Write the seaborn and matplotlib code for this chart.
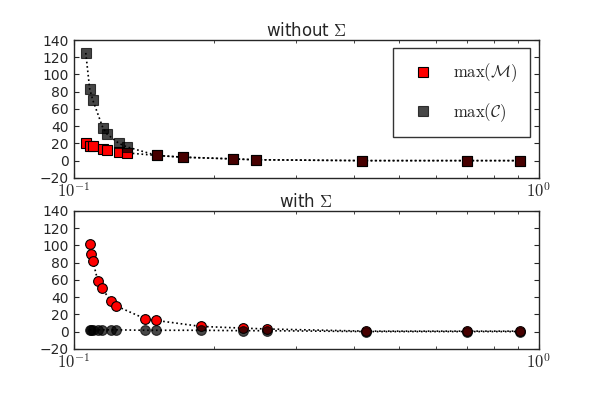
import matplotlib
matplotlib.use('Agg')
import matplotlib.pyplot as plt
import matplotlib.ticker as mticker
import seaborn as sns
import pandas as pd

# data
x_top = [0.1061, 0.1082, 0.1099, 0.1155, 0.1178, 0.1250, 0.1300, 0.1508, 0.1714, 0.2200, 0.2460, 0.416, 0.700, 0.910]
m_top = [20, 17, 17, 14, 12, 10, 9, 6, 4, 2, 1, 0, 0, 0]
c_top = [125, 83, 70, 38, 31, 20, 16, 6, 4, 2, 1, 0, 0, 0]

x_bot = [0.1082, 0.1088, 0.1099, 0.1126, 0.1149, 0.1201, 0.1231, 0.1421, 0.1500, 0.1875, 0.2307, 0.2600, 0.425, 0.700, 0.910]
m_bot = [102, 90, 82, 59, 50, 36, 30, 15, 13, 6, 4, 3, 0.5, 0.5, 0.5]
c_bot = [2, 2, 2, 2, 2, 2, 2, 1.5, 1.5, 1.5, 1, 1, 0, 0, 0]

sns.set_style('ticks')
plt.rcParams['font.family'] = ['DejaVu Sans']
plt.rcParams['mathtext.fontset'] = 'cm'

fig, axes = plt.subplots(2, 1, figsize=(6, 4), dpi=100)
fig.subplots_adjust(left=0.123, right=0.898, top=0.9, bottom=0.128, hspace=0.24)

panels = [(axes[0], x_top, m_top, c_top, 's', r'without $\Sigma$'),
          (axes[1], x_bot, m_bot, c_bot, 'o', r'with $\Sigma$')]

for ax, xs, ms, cs, mk, title in panels:
    df = pd.DataFrame({'x': xs, 'M': ms, 'C': cs})
    sns.lineplot(data=df, x='x', y='M', ax=ax, color='black', linestyle=':', lw=1.2)
    sns.lineplot(data=df, x='x', y='C', ax=ax, color='black', linestyle=':', lw=1.2)
    ax.plot(df['x'], df['M'], linestyle='none', marker=mk, ms=7, mfc='red',
            mec='black', mew=0.8, label=r'$\max(\mathcal{M})$')
    ax.plot(df['x'], df['C'], linestyle='none', marker=mk, ms=7, mfc='black',
            mec='black', mew=0.8, alpha=0.72, label=r'$\max(\mathcal{C})$')
    ax.set_xscale('log')
    ax.set_xlim(0.1, 1)
    ax.set_ylim(-20, 140)
    ax.set_yticks(range(-20, 141, 20))
    ax.set_xticks([0.1, 1])
    ax.set_xticklabels([r'$10^{-1}$', r'$10^{0}$'])
    ax.xaxis.set_minor_formatter(mticker.NullFormatter())
    ax.set_xlabel('')
    ax.set_ylabel('')
    ax.set_title(title, fontsize=12, pad=3)
    ax.tick_params(direction='in', top=True, right=True, labelsize=10)
    ax.tick_params(axis='x', labelsize=12)
    ax.tick_params(which='minor', direction='in', top=True)
    for s in ax.spines.values():
        s.set_linewidth(1)

leg = axes[0].legend(loc='upper right', fontsize=12, frameon=True, fancybox=False,
                     edgecolor='black', numpoints=1, borderpad=0.8, labelspacing=1.0)
leg.get_frame().set_linewidth(1)

fig.savefig('out.png')
